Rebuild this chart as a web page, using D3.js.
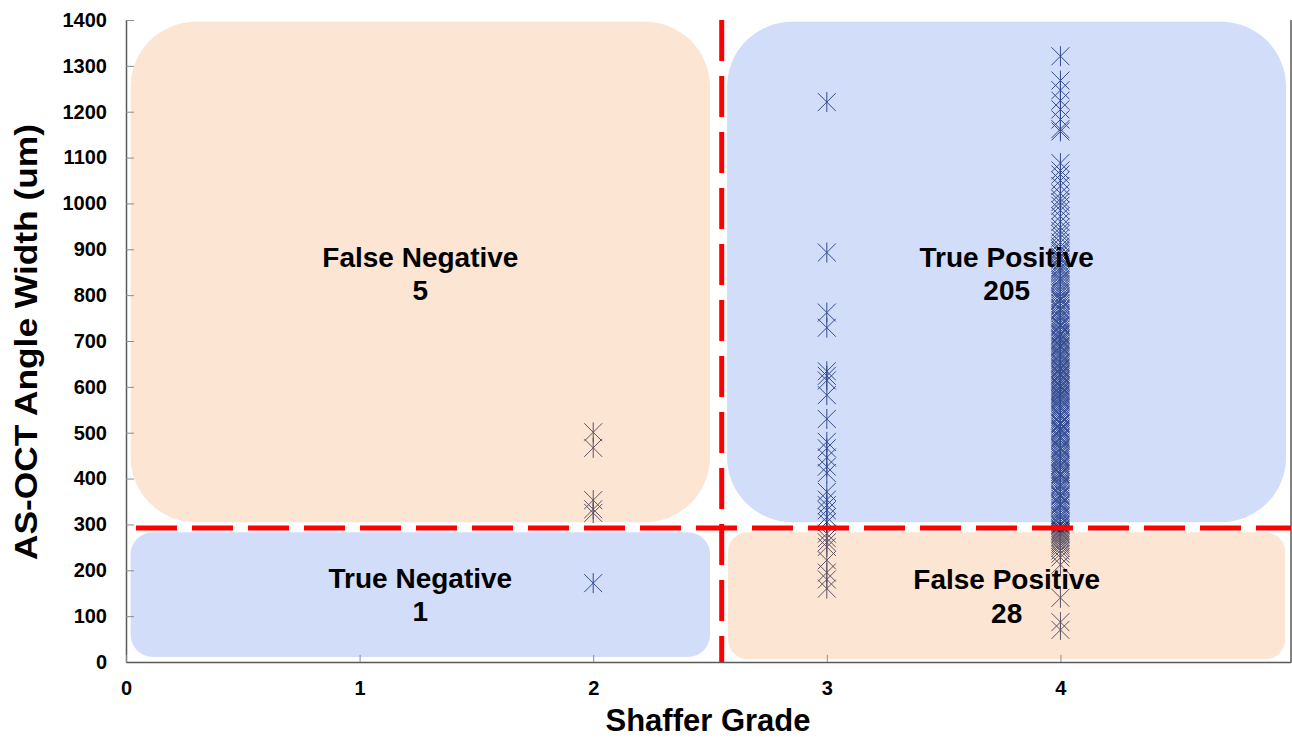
<!DOCTYPE html>
<html>
<head>
<meta charset="utf-8">
<script src="https://cdn.jsdelivr.net/npm/d3@7"></script>
<style>
body { margin: 0; background: #fff; }
text { font-family: "Liberation Sans", Arial, sans-serif; font-weight: bold; fill: #000; }
</style>
</head>
<body>
<svg id="chart" width="1292" height="738"></svg>
<script>
// tick labels
var xTicks = [0, 1, 2, 3, 4];
var yTicks = [0, 100, 200, 300, 400, 500, 600, 700, 800, 900, 1000, 1100, 1200, 1300, 1400];

// angle width (um) per shaffer grade, split by quadrant
var grade2FalseNeg = [501, 467, 353, 333, 325];
var grade2TrueNeg  = [172];
var grade3TruePos  = [1221, 893, 762, 729, 634, 624, 614, 582, 530, 480, 466, 446, 426, 412, 371, 354, 342, 331, 316, 305];
var grade3FalsePos = [280, 270, 261, 251, 222, 195, 180, 160];
var grade4TruePos  = [
  1321, 1268, 1247, 1224, 1205, 1183, 1162, 1157,
  1088, 1072, 1063, 1050, 1038, 1022, 1010, 1003, 995, 985, 972, 960, 948, 940, 933, 925, 915, 906, 900,
  896, 891, 884, 878, 871, 866, 860, 853, 848, 842, 836, 829, 824, 818, 813, 808, 803, 881, 857, 833,
  797, 793, 788, 782, 777, 771, 766, 761, 756, 750, 745, 741, 736, 731, 725, 720, 716, 711, 706, 702, 790, 768, 752, 734, 714, 703,
  698, 694, 690, 685, 681, 676, 672, 667, 663, 659, 654, 650, 646, 642, 637, 633, 629, 624, 620, 616, 611, 607, 603, 688, 670, 652, 640, 627, 613, 601,
  598, 594, 589, 585, 580, 576, 571, 567, 562, 558, 553, 549, 544, 540, 535, 531, 527, 522, 518, 513, 509, 504, 501, 591, 573, 556, 538, 520, 507, 583,
  497, 492, 487, 483, 478, 473, 468, 463, 458, 454, 449, 444, 439, 434, 430, 425, 420, 415, 411, 406, 402, 489, 466, 447, 428, 409,
  397, 392, 387, 382, 377, 372, 366, 361, 356, 351, 346, 341, 336, 331, 326, 321, 316, 311, 306, 301, 297, 384, 363, 343, 318, 299
];
var grade4FalsePos = [292, 289, 286, 283, 280, 277, 273, 270, 266, 262, 258, 254, 249, 243, 236, 228, 212, 140, 87, 70];

// quadrants
var quadNames  = ['False Negative', 'True Positive', 'True Negative', 'False Positive'];
var quadCounts = [5, 205, 1, 28];
var cutGrade = 2.55;
var cutWidth = 292;

var svg = d3.select('#chart');
var x = d3.scaleLinear().domain([0, 4.987]).range([126, 1291]);
var y = d3.scaleLinear().domain([0, 1400]).range([662, 20]);

var points = [];
function addPts(g, arr) { arr.forEach(function(v){ points.push({g: g, v: v}); }); }
addPts(2, grade2FalseNeg); addPts(2, grade2TrueNeg);
addPts(3, grade3TruePos); addPts(3, grade3FalsePos);
addPts(4, grade4TruePos); addPts(4, grade4FalsePos);

// star marker (x + vertical bar), like excel
var star = 'M-9,-9L9,9M9,-9L-9,9M0,-10L0,10';
svg.append('g').selectAll('path').data(points).enter().append('path')
   .attr('transform', function(d){ return 'translate(' + x(d.g) + ',' + y(d.v) + ')'; })
   .attr('d', star)
   .attr('fill', 'none')
   .attr('stroke', '#1d2f68')
   .attr('stroke-width', 1);

// translucent rounded boxes on top of the points
var boxes = [
  {x0: 0.02,  x1: 2.50,  y0: 305, y1: 1396, r: 65, c: '#f5a869'},
  {x0: 2.573, x1: 4.966, y0: 305, y1: 1396, r: 65, c: '#698eee'},
  {x0: 0.02,  x1: 2.50,  y0: 11,  y1: 283,  r: 22, c: '#698eee'},
  {x0: 2.577, x1: 4.962, y0: 6,   y1: 283,  r: 20, c: '#f5a869'}
];
svg.append('g').selectAll('rect').data(boxes).enter().append('rect')
   .attr('x', function(d){ return x(d.x0); })
   .attr('y', function(d){ return y(d.y1); })
   .attr('width', function(d){ return x(d.x1) - x(d.x0); })
   .attr('height', function(d){ return y(d.y0) - y(d.y1); })
   .attr('rx', function(d){ return d.r; })
   .attr('fill', function(d){ return d.c; })
   .attr('fill-opacity', 0.3);

// axes
var yAxis = svg.append('g').attr('transform', 'translate(126,0)')
   .call(d3.axisLeft(y).tickValues(yTicks).tickFormat(d3.format('d')).tickSize(-8).tickSizeOuter(0).tickPadding(19));
var xAxis = svg.append('g').attr('transform', 'translate(0,662)')
   .call(d3.axisBottom(x).tickValues(xTicks).tickFormat(d3.format('d')).tickSize(-7).tickSizeOuter(0).tickPadding(19));
[yAxis, xAxis].forEach(function(a){
  a.attr('font-size', 20).attr('font-family', '"Liberation Sans", Arial, sans-serif');
  a.select('.domain').attr('stroke', '#595959').attr('stroke-width', 1.5);
  a.selectAll('.tick line').attr('stroke', '#8c8c8c').attr('stroke-width', 1);
  a.selectAll('.tick text').attr('fill', '#000').style('font-weight', 'bold');
});
svg.append('line').attr('x1', 1291).attr('x2', 1291).attr('y1', y(1400)).attr('y2', y(0))
   .attr('stroke', '#595959').attr('stroke-width', 1.5);

// cut-off lines
svg.append('line').attr('x1', x(cutGrade)).attr('x2', x(cutGrade)).attr('y1', y(1400)).attr('y2', y(0))
   .attr('stroke', '#ff0000').attr('stroke-width', 5).attr('stroke-dasharray', '41,15');
svg.append('line').attr('x1', x(0)).attr('x2', x(4.987)).attr('y1', y(cutWidth)).attr('y2', y(cutWidth))
   .attr('stroke', '#ff0000').attr('stroke-width', 5).attr('stroke-dasharray', '41,15').attr('stroke-dashoffset', 46);

// quadrant labels
var labelPos = [
  {g: 1.26, name: 861, count: 789},
  {g: 3.77, name: 861, count: 789},
  {g: 1.26, name: 161, count: 89},
  {g: 3.77, name: 159, count: 85}
];
labelPos.forEach(function(p, i){
  svg.append('text').attr('x', x(p.g)).attr('y', y(p.name)).attr('text-anchor', 'middle')
     .style('font-size', '28px').text(quadNames[i]);
  svg.append('text').attr('x', x(p.g)).attr('y', y(p.count)).attr('text-anchor', 'middle')
     .style('font-size', '28px').text(quadCounts[i]);
});

// axis titles
svg.append('text').attr('x', 708).attr('y', 731).attr('text-anchor', 'middle')
   .style('font-size', '31px').text('Shaffer Grade');
svg.append('text').attr('transform', 'translate(37,342) rotate(-90)').attr('text-anchor', 'middle')
   .attr('textLength', 436).attr('lengthAdjust', 'spacingAndGlyphs')
   .style('font-size', '31px').text('AS-OCT Angle Width (um)');
</script>
</body>
</html>
